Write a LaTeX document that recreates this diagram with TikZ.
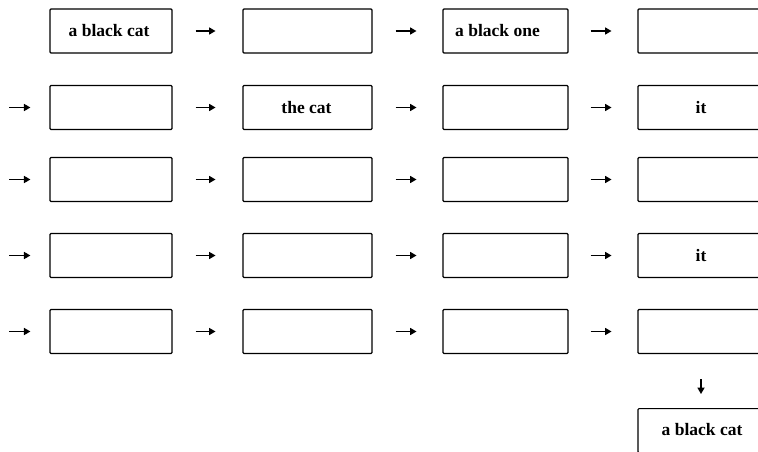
\documentclass[tikz,border=0pt]{standalone}
\usepackage{fontspec}
\setmainfont{Liberation Serif}
\usetikzlibrary{arrows.meta}
\begin{document}
\begin{tikzpicture}[x=1pt,y=-1pt,
  cell/.style={draw,line width=1.1pt,rounded corners=1pt,minimum height=44pt,inner sep=0pt,
    font=\fontsize{17.5}{20}\selectfont\bfseries},
  wA/.style={cell,minimum width=122pt},
  wB/.style={cell,minimum width=129pt},
  wC/.style={cell,minimum width=125pt},
  wD/.style={cell,minimum width=126pt},
  arr/.style={line width=1.6pt,-{Triangle[length=6.5pt,width=7pt]}}]
\useasboundingbox (0,0) rectangle (758,452);
\clip (0,0) rectangle (758,452);
\fill[white] (0,0) rectangle (758,452);
% rows
\foreach \r/\y in {1/31,2/107.5,3/179.5,4/255.5,5/331.5}{
  \node[wA] (a\r) at (111,\y) {};
  \node[wB] (b\r) at (307.5,\y) {};
  \node[wC] (c\r) at (505.5,\y) {};
  \node[wD] (d\r) at (701,\y) {};
  \draw[arr] ([xshift=23pt]a\r.east) -- ([xshift=43pt]a\r.east);
  \draw[arr] ([xshift=23pt]b\r.east) -- ([xshift=44pt]b\r.east);
  \draw[arr] ([xshift=22pt]c\r.east) -- ([xshift=43pt]c\r.east);
}
\foreach \r in {2,3,4,5}{
  \draw[arr] ([xshift=-40pt]a\r.west) -- ([xshift=-19pt]a\r.west);
}
\node[font=\fontsize{17.5}{20}\selectfont\bfseries] (t1) at (109,31) {a black cat};
\node[font=\fontsize{17.5}{20}\selectfont\bfseries] (t2) at (306.5,107.5) {the cat};
\node[font=\fontsize{17.5}{20}\selectfont\bfseries] (t3) at (497.5,31) {a black one};
\node[font=\fontsize{17.5}{20}\selectfont\bfseries] (t4) at (701,107.5) {it};
\node[font=\fontsize{17.5}{20}\selectfont\bfseries] (t5) at (701,255.5) {it};
% final
\node[wD,anchor=north] (fin) at (701,408) {};
\node[font=\fontsize{17.5}{20}\selectfont\bfseries] (t6) at (702,430) {a black cat};
\draw[arr] ([yshift=-25pt]d5.south) -- ([yshift=-40pt]d5.south);
\end{tikzpicture}
\end{document}
